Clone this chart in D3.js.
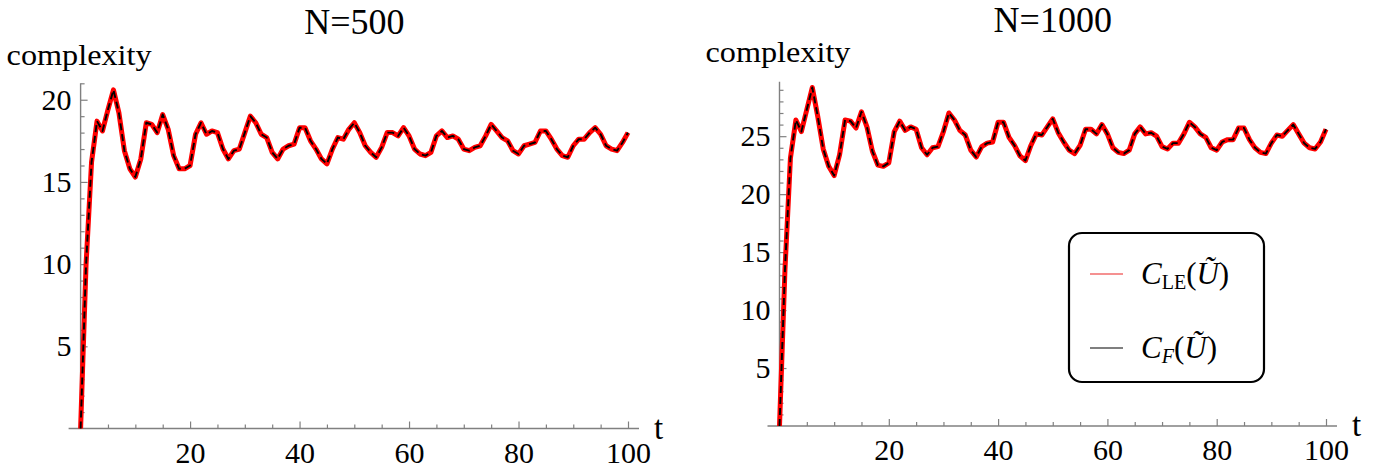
<!DOCTYPE html>
<html>
<head>
<meta charset="utf-8">
<script src="https://cdn.jsdelivr.net/npm/d3@7"></script>
<style>
  body { margin: 0; background: #fff; }
  svg { display: block; }
  text { font-family: "Liberation Serif", "Times New Roman", serif; fill: #000; }
</style>
</head>
<body>
<svg id="chart" width="1391" height="471"></svg>
<script>
// complexity against time step t = 0..100
const cLE500 = [
  0, 10.0, 16.2, 18.7, 18.1, 19.4, 20.6, 19.2, 16.9, 15.8,
  15.3, 16.4, 18.6, 18.5, 18.0, 19.1, 18.2, 16.6, 15.8, 15.8,
  16.0, 17.9, 18.6, 17.9, 18.1, 18.0, 17.0, 16.4, 16.9, 17.0,
  18.0, 19.0, 18.6, 17.9, 17.7, 16.8, 16.4, 17.0, 17.2, 17.3,
  18.3, 18.3, 17.5, 17.0, 16.4, 16.1, 17.0, 17.7, 17.6, 18.2,
  18.6, 18.0, 17.2, 16.8, 16.5, 17.1, 18.0, 18.0, 17.8, 18.3,
  17.8, 17.0, 16.7, 16.6, 16.8, 17.8, 18.1, 17.7, 17.8, 17.6,
  17.0, 16.9, 17.1, 17.2, 17.8, 18.5, 18.1, 17.7, 17.5, 16.9,
  16.7, 17.2, 17.3, 17.4, 18.1, 18.1, 17.6, 17.0, 16.6, 16.5,
  17.2, 17.6, 17.6, 18.0, 18.3, 17.9, 17.2, 17.0, 16.9, 17.4,
  18.0
];
const cLE1000 = [
  0, 13.5, 23.1, 26.4, 25.4, 27.3, 29.2, 26.7, 23.9, 22.4,
  21.6, 23.4, 26.4, 26.3, 25.7, 27.1, 25.8, 23.7, 22.5, 22.4,
  22.7, 25.4, 26.3, 25.5, 25.8, 25.6, 24.0, 23.4, 24.0, 24.1,
  25.4, 27.0, 26.4, 25.5, 25.1, 23.8, 23.2, 24.1, 24.4, 24.5,
  26.2, 26.2, 24.9, 24.2, 23.3, 22.9, 24.2, 25.2, 25.1, 25.8,
  26.5, 25.3, 24.5, 23.8, 23.5, 24.2, 25.6, 25.6, 25.2, 26.0,
  25.2, 24.0, 23.6, 23.5, 23.8, 25.2, 25.8, 25.2, 25.3, 25.0,
  24.1, 23.9, 24.4, 24.4, 25.2, 26.2, 25.8, 25.2, 24.9, 24.0,
  23.8, 24.5, 24.7, 24.7, 25.7, 25.7, 24.7, 24.0, 23.6, 23.5,
  24.4, 25.1, 25.0, 25.5, 26.0, 25.2, 24.4, 24.0, 23.9, 24.5,
  25.6
];
// the two measures coincide in the picture
const cF500 = cLE500.slice();
const cF1000 = cLE1000.slice();
const steps = cLE500.map((d, i) => i);

const xMajor = [20, 40, 60, 80, 100];
const xMinor = [5, 10, 15, 25, 30, 35, 45, 50, 55, 65, 70, 75, 85, 90, 95];
const yMajor500 = [5, 10, 15, 20];
const yMajor1000 = [5, 10, 15, 20, 25];
const titles = ["N=500", "N=1000"];

const svg = d3.select("#chart");
const axisColor = "#808080";

function drawPanel(p) {
  const g = svg.append("g");
  const x = d3.scaleLinear().domain([0, 100]).range([p.left, p.right]);
  const y = d3.scaleLinear().domain([0, p.yMax]).range([p.base, p.top]);
  const yMinor = d3.range(1, Math.floor(p.yMax) + 1).filter(v => !p.yMajor.includes(v));

  // x axis
  const xg = g.append("g").attr("transform", `translate(0,${p.base})`);
  xg.append("g").call(d3.axisBottom(x).tickValues(xMinor).tickSize(-4).tickSizeOuter(0).tickFormat(""));
  xg.append("g").call(d3.axisBottom(x).tickValues(xMajor).tickSize(-7).tickSizeOuter(0).tickPadding(13));
  xg.selectAll(".domain").remove();
  xg.append("line")
    .attr("x1", p.left - 12).attr("x2", p.right + 11)
    .attr("stroke", axisColor).attr("stroke-width", 1.4);

  // y axis
  const yg = g.append("g").attr("transform", `translate(${p.left},0)`);
  yg.append("g").call(d3.axisLeft(y).tickValues(yMinor).tickSize(-4).tickSizeOuter(0).tickFormat(""));
  yg.append("g").call(d3.axisLeft(y).tickValues(p.yMajor).tickSize(-7).tickSizeOuter(0).tickPadding(9));
  yg.selectAll(".domain").remove();
  yg.append("line")
    .attr("y1", p.base).attr("y2", p.top)
    .attr("stroke", axisColor).attr("stroke-width", 1.4);

  g.selectAll(".tick line").attr("stroke", axisColor).attr("stroke-width", 1.2);
  g.selectAll(".tick text")
    .attr("fill", "#000")
    .style("font-family", '"Liberation Serif", serif')
    .style("font-size", "30px");

  // curves
  const line = d3.line().x((d, i) => x(steps[i])).y(d => y(d));
  g.append("path").datum(p.le)
    .attr("d", line).attr("fill", "none")
    .attr("stroke", "#ff0000").attr("stroke-width", 5)
    .attr("stroke-linejoin", "round");
  g.append("path").datum(p.f)
    .attr("d", line).attr("fill", "none")
    .attr("stroke", "#000").attr("stroke-width", 1.9)
    .attr("stroke-dasharray", "7,4")
    .attr("stroke-linejoin", "round");

  // labels
  g.append("text").attr("x", (p.left + p.right) / 2).attr("y", p.titleY)
    .attr("text-anchor", "middle").style("font-size", "36px").text(p.title);
  g.append("text").attr("x", p.left - 74).attr("y", p.base - 364)
    .attr("textLength", 145).attr("lengthAdjust", "spacingAndGlyphs")
    .style("font-size", "29px").text("complexity");
  g.append("text").attr("x", p.right + 26).attr("y", p.base + 10)
    .style("font-size", "33px").text("t");
  return { x, y, g };
}

drawPanel({
  left: 80.6, right: 628, base: 428.5, top: 83.3, yMax: 21,
  yMajor: yMajor500, le: cLE500, f: cF500, title: titles[0], titleY: 34
});
drawPanel({
  left: 779.5, right: 1326, base: 426, top: 81.7, yMax: 29.7,
  yMajor: yMajor1000, le: cLE1000, f: cF1000, title: titles[1], titleY: 32
});

// legend
const lg = svg.append("g");
lg.append("rect")
  .attr("x", 1069).attr("y", 233).attr("width", 195).attr("height", 149)
  .attr("rx", 13).attr("fill", "#fff").attr("stroke", "#000").attr("stroke-width", 2.2);
const legendItems = [
  { color: "#f26d6d", sub: "LE", subItalic: false, y: 274 },
  { color: "#555555", sub: "F", subItalic: true, y: 348 }
];
legendItems.forEach(it => {
  lg.append("line").attr("x1", 1090).attr("x2", 1123).attr("y1", it.y).attr("y2", it.y)
    .attr("stroke", it.color).attr("stroke-width", 1.5);
  const t = lg.append("text").attr("x", 1141).attr("y", it.y + 10).style("font-size", "31px");
  t.append("tspan").style("font-style", "italic").text("C");
  t.append("tspan").attr("dy", 5).style("font-size", "20px")
    .style("font-style", it.subItalic ? "italic" : "normal").text(it.sub);
  t.append("tspan").attr("dy", -5).text("(");
  t.append("tspan").style("font-style", "italic").text("Ũ");
  t.append("tspan").text(")");
});
</script>
</body>
</html>
